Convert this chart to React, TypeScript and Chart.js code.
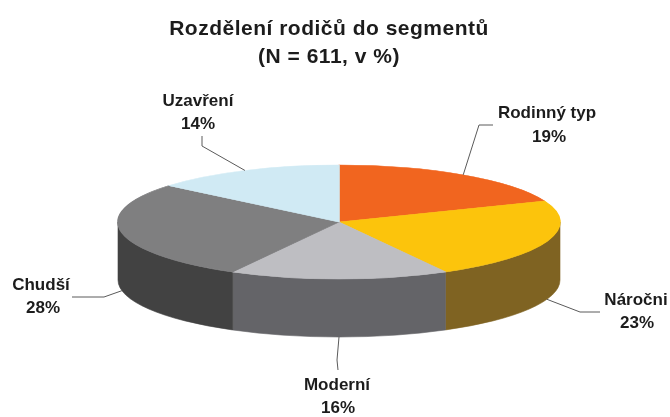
import React, { useEffect, useRef } from "react";
import { Chart, registerables } from "chart.js";

Chart.register(...registerables);

// ---- data ----
const categories = ["Rodinný typ", "Náročni", "Moderní", "Chudší", "Uzavření"];
const values = [19, 23, 16, 28, 14];
const titleLines = ["Rozdělení rodičů do segmentů", "(N = 611, v %)"];

// ---- styles ----
const topColors = ["#F1651F", "#FCC40C", "#BEBEC2", "#7F7F80", "#D0EAF4"];
const sideColors = ["#B04A18", "#7F6322", "#646468", "#424242", "#9FB9C3"];
const FONT = "'Liberation Sans', Arial, sans-serif";

// ---- layout (3D ellipse projection and label placement) ----
const ELLIPSE = { cx: 339, cy: 222, rx: 221, ry: 57, depth: 58 };
const labelLayout = [
  { name: [547, 113], pct: [549, 137], leader: [[479, 125], [493, 125]] },
  { name: [636, 300], pct: [637, 323], leader: [[580, 312], [600, 312]] },
  { name: [337, 385], pct: [338, 408], leader: [[337, 360], [338, 370]] },
  { name: [41, 285], pct: [43, 308], leader: [[104, 297], [72, 297]] },
  { name: [198, 101], pct: [198, 124], leader: [[202, 146], [202, 136]] },
];

const pie3d = {
  id: "pie3d",
  beforeDraw(chart: any) {
    (chart.ctx as any).letterSpacing = "0.5px";
  },
  beforeDatasetsDraw(chart: any) {
    const ctx = chart.ctx as CanvasRenderingContext2D;
    (ctx as any).letterSpacing = "0px";
    const meta = chart.getDatasetMeta(0);
    const first = meta.data[0] as any;
    const { x, y, outerRadius: R } = first;
    const { cx, cy, rx, ry, depth } = ELLIPSE;
    // side walls
    ctx.save();
    meta.data.forEach((arc: any, i: number) => {
      const s = arc.startAngle;
      const e = arc.endAngle;
      for (let k = -1; k <= 1; k++) {
        const lo = Math.max(s, 2 * Math.PI * k);
        const hi = Math.min(e, 2 * Math.PI * k + Math.PI);
        if (hi > lo) {
          ctx.beginPath();
          ctx.ellipse(cx, cy, rx, ry, 0, lo, hi);
          ctx.ellipse(cx, cy + depth, rx, ry, 0, hi, lo, true);
          ctx.closePath();
          ctx.fillStyle = sideColors[i];
          ctx.fill();
          ctx.strokeStyle = sideColors[i];
          ctx.lineWidth = 0.6;
          ctx.stroke();
        }
      }
    });
    ctx.restore();
    // flatten top surface
    ctx.save();
    ctx.translate(cx, cy);
    ctx.scale(rx / R, ry / R);
    ctx.translate(-x, -y);
  },
  afterDatasetsDraw(chart: any) {
    chart.ctx.restore();
  },
  afterDraw(chart: any) {
    const ctx = chart.ctx as CanvasRenderingContext2D;
    const meta = chart.getDatasetMeta(0);
    const { cx, cy, rx, ry, depth } = ELLIPSE;
    ctx.save();
    (ctx as any).letterSpacing = "0px";
    meta.data.forEach((arc: any, i: number) => {
      const m = (arc.startAngle + arc.endAngle) / 2;
      const ax = cx + rx * Math.cos(m);
      const ay = cy + ry * Math.sin(m) + (Math.sin(m) > 0 ? depth : 0);
      const L = labelLayout[i];
      ctx.beginPath();
      ctx.moveTo(ax, ay);
      L.leader.forEach((p) => ctx.lineTo(p[0], p[1]));
      ctx.strokeStyle = "#5a5a5a";
      ctx.lineWidth = 1;
      ctx.stroke();
      ctx.fillStyle = "#1c1c1c";
      ctx.font = `bold 17px ${FONT}`;
      ctx.textAlign = "center";
      ctx.textBaseline = "middle";
      ctx.fillText(categories[i], L.name[0], L.name[1]);
      ctx.fillText(`${values[i]}%`, L.pct[0], L.pct[1]);
    });
    ctx.restore();
  },
};

export default function App() {
  const ref = useRef<HTMLCanvasElement | null>(null);
  useEffect(() => {
    document.body.style.margin = "0";
    const canvas = ref.current;
    if (!canvas) return;
    const chart = new Chart(canvas, {
      type: "pie",
      data: {
        labels: categories,
        datasets: [
          {
            data: values,
            backgroundColor: topColors,
            borderColor: topColors,
            borderWidth: 1,
          },
        ],
      },
      options: {
        responsive: false,
        animation: false,
        devicePixelRatio: 1,
        layout: { padding: { top: 0, bottom: 60, left: 114, right: 126 } },
        plugins: {
          legend: { display: false },
          tooltip: { enabled: false },
          title: {
            display: true,
            text: titleLines,
            color: "#1c1c1c",
            font: { family: FONT, size: 21, weight: "bold", lineHeight: 1.33 },
            padding: { top: 15, bottom: 10 },
          },
        },
      },
      plugins: [pie3d],
    });
    return () => chart.destroy();
  }, []);
  return (
    <div style={{ width: 670, height: 417, background: "#fff" }}>
      <canvas ref={ref} width={670} height={417} />
    </div>
  );
}
